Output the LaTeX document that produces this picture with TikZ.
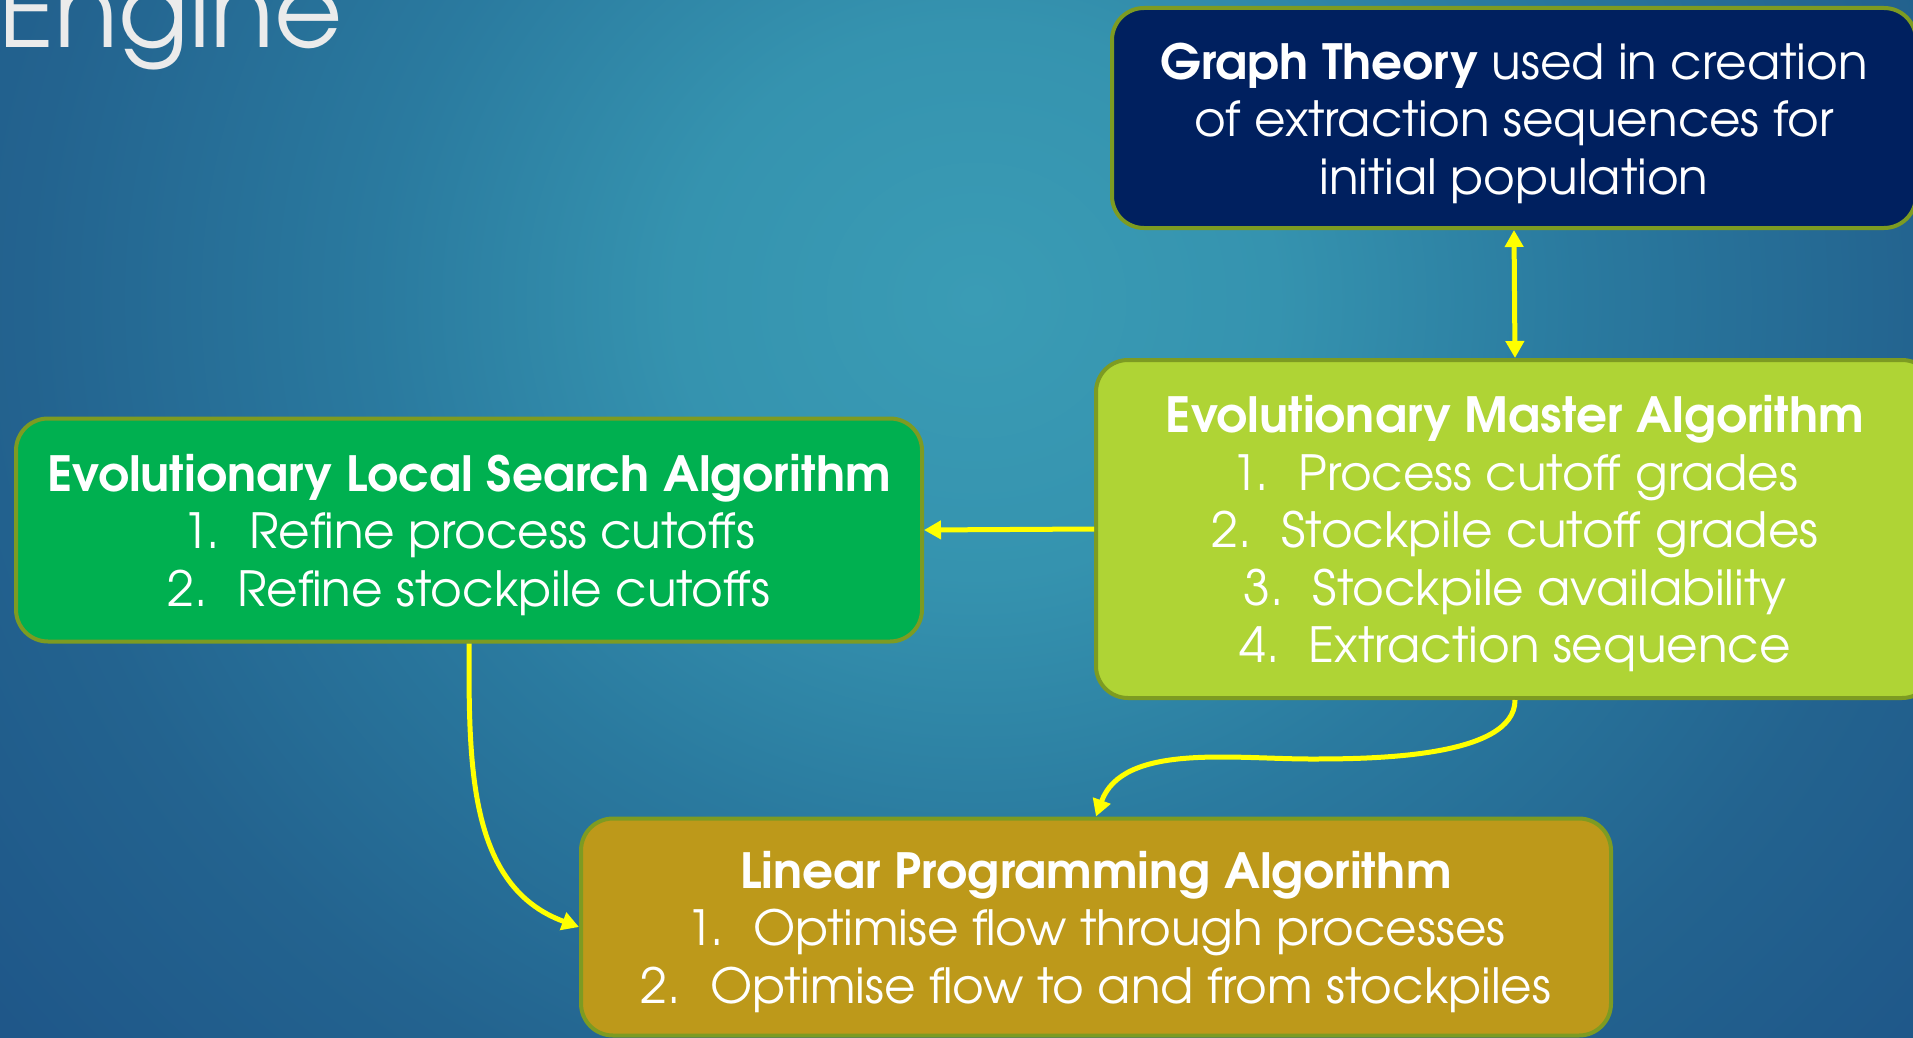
\documentclass[tikz,border=0pt]{standalone}
\usepackage{fontspec}
\setmainfont{TeX Gyre Adventor}
\usetikzlibrary{arrows.meta}
\definecolor{bgA}{HTML}{3A9CB5}
\definecolor{bgB}{HTML}{3593AF}
\definecolor{bgC}{HTML}{2A7A9F}
\definecolor{bgD}{HTML}{23638F}
\definecolor{bgE}{HTML}{1E5588}
\definecolor{bgF}{HTML}{1A4C83}
\definecolor{bgG}{HTML}{15427A}
\definecolor{bgH}{HTML}{133C74}
\definecolor{navybox}{HTML}{00205F}
\definecolor{greenbox}{HTML}{00B050}
\definecolor{limebox}{HTML}{AFD435}
\definecolor{goldbox}{HTML}{BD991A}
\definecolor{olive}{HTML}{7D9B22}
\definecolor{arrowyellow}{HTML}{FFFF00}
\definecolor{titlegrey}{HTML}{EBEBEB}
\pgfdeclareradialshading{bgshade}{\pgfpoint{0bp}{0bp}}{color(0bp)=(bgA); color(6bp)=(bgB); color(12bp)=(bgC); color(19bp)=(bgD); color(26bp)=(bgE); color(33bp)=(bgF); color(40bp)=(bgG); color(50bp)=(bgH)}
\newcommand{\firstline}{\rule{0pt}{47pt}}
\tikzset{
  box/.style={draw=olive, line width=4pt, rounded corners=32pt, inner sep=0pt, align=center, text=white,
    font=\fontsize{48.5}{57.5}\selectfont},
  conn/.style={draw=arrowyellow, line width=5pt, -{Triangle[length=17pt,width=18pt]}},
  conn2/.style={draw=arrowyellow, line width=5pt, {Triangle[length=17pt,width=18pt]}-{Triangle[length=17pt,width=18pt]}}
}
\begin{document}
\begin{tikzpicture}[x=1pt,y=-1pt]
\useasboundingbox (0,0) rectangle (1913,1038);
\clip (0,0) rectangle (1913,1038);
\shade[shading=bgshade] (-274,-850) rectangle (2226,1450);
\node[anchor=base east, text=titlegrey, font=\fontsize{105}{105}\selectfont, inner sep=0pt] (title) at (343,48) {Engine};
\node[box, fill=navybox, minimum width=804pt, minimum height=220pt] (top) at (1514,118)
  {\firstline\textbf{Graph Theory} used in creation\\of extraction sequences for\\initial population};
\node[box, fill=limebox, minimum width=838pt, minimum height=338pt] (master) at (1515,529)
  {\firstline\textbf{Evolutionary Master Algorithm}\\1.\hspace{0.6em}Process cutoff grades\\2.\hspace{0.6em}Stockpile cutoff grades\\3.\hspace{0.6em}Stockpile availability\\4.\hspace{0.6em}Extraction sequence};
\node[box, fill=greenbox, minimum width=906pt, minimum height=223pt] (local) at (469,530)
  {\firstline\textbf{Evolutionary Local Search Algorithm}\\1.\hspace{0.6em}Refine process cutoffs\\2.\hspace{0.6em}Refine stockpile cutoffs};
\node[box, fill=goldbox, minimum width=1030pt, minimum height=217pt] (lp) at (1096,927)
  {\firstline\textbf{Linear Programming Algorithm}\\1.\hspace{0.6em}Optimise flow through processes\\2.\hspace{0.6em}Optimise flow to and from stockpiles};
\coordinate (mid) at (1311,759);
\draw[conn2] (top.south) -- (master.north);
\draw[conn] (master.west) -- (local.east);
\draw[conn] (local.south) to[out=-90,in=160] (lp.west);
\draw[conn] (master.south) to[out=-90,in=0,looseness=0.7] (mid) to[out=180,in=70,looseness=0.9] (lp.north);
\end{tikzpicture}
\end{document}
